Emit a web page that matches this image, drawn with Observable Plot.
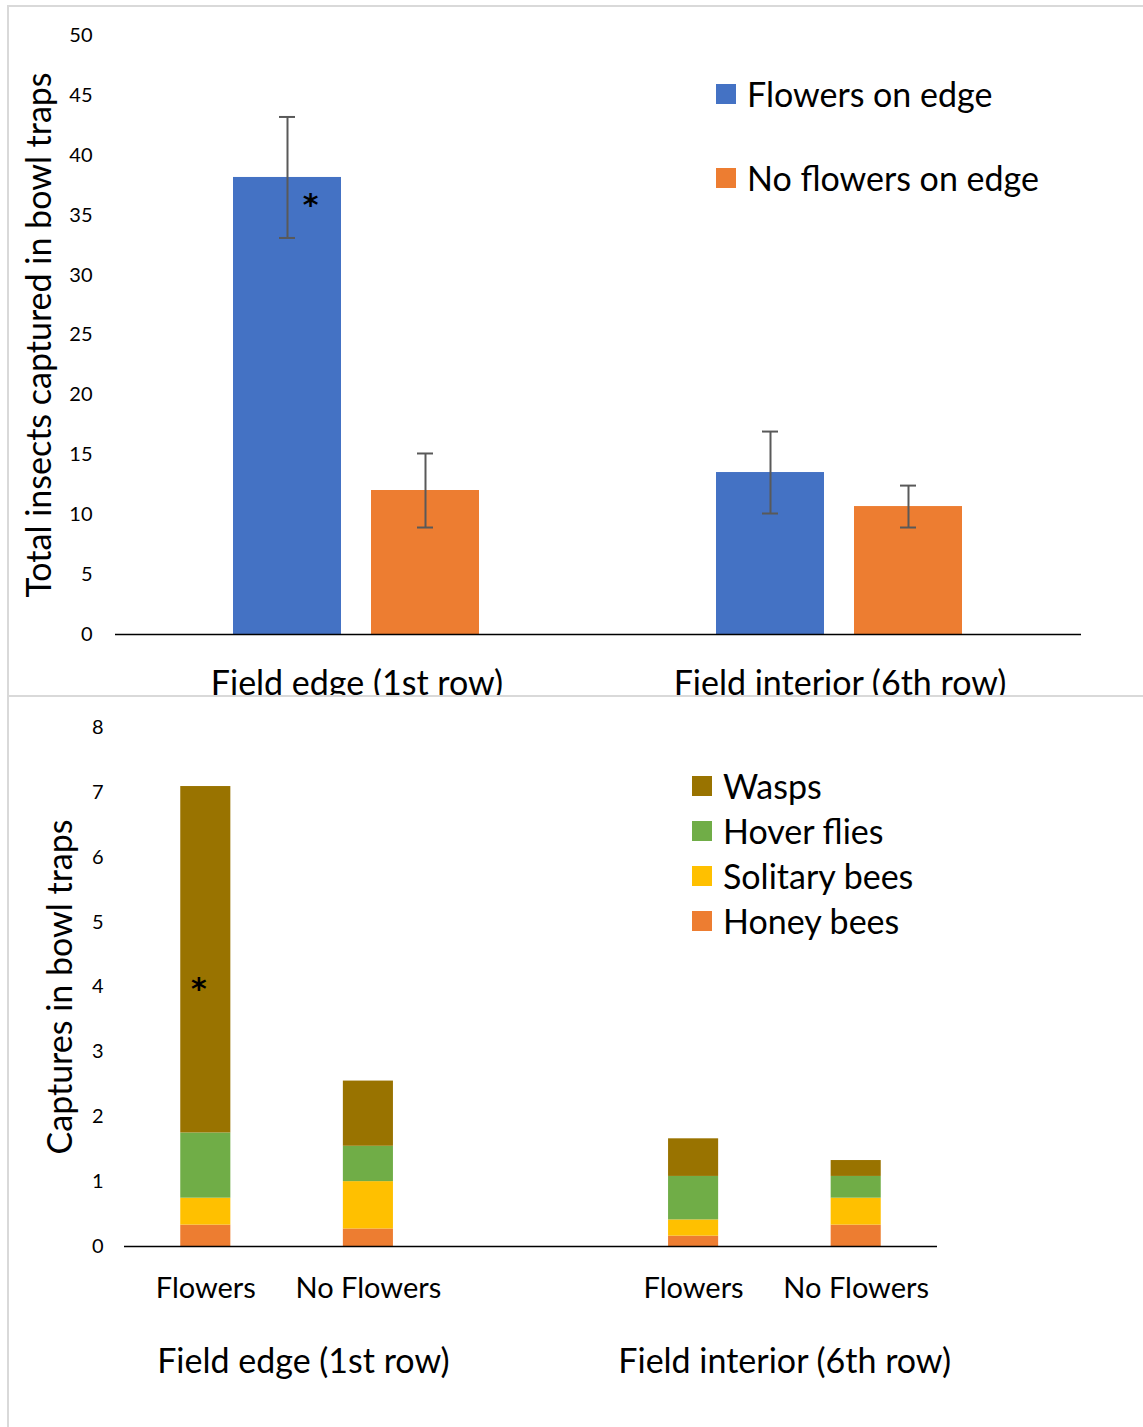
<!DOCTYPE html>
<html><head><meta charset="utf-8">
<script src="https://cdn.jsdelivr.net/npm/d3@7"></script>
<script src="https://cdn.jsdelivr.net/npm/@observablehq/plot@0.6"></script>
<style>
body{margin:0;background:#fff;font-family:Lato,sans-serif;}
#page{position:relative;width:1143px;height:1427px;overflow:hidden;background:#fff;}
.line{position:absolute;background:#d9d9d9;}
.panel{position:absolute;left:0;width:1143px;overflow:hidden;}
.legend-item{position:absolute;display:flex;align-items:center;height:40px;white-space:nowrap;color:#000;line-height:1;}
.sw{width:20px;height:20px;margin-right:11px;flex:none;}
</style></head>
<body><div id="page">
<div class="panel" id="top" style="top:0;height:695px"></div>
<div class="panel" id="bottom" style="top:697px;height:730px"></div>
<div class="line" style="left:7px;top:5px;width:1136px;height:2px"></div>
<div class="line" style="left:7px;top:695px;width:1136px;height:2px"></div>
<div class="line" style="left:7px;top:5px;width:2px;height:1422px"></div>
</div>
<script>
// ---------- data: top panel ----------
const groups = ["Field edge (1st row)", "Field interior (6th row)"];
const treatments = ["Flowers on edge", "No flowers on edge"];
const treatmentColors = ["#4472C4", "#ED7D31"];
const flowersMean = [38.15, 13.52];
const flowersErr = [5.05, 3.42];
const noFlowersMean = [12.02, 10.68];
const noFlowersErr = [3.09, 1.75];
const topTicks = [0, 5, 10, 15, 20, 25, 30, 35, 40, 45, 50];
const topSignificance = [{group: "Field edge (1st row)", treatment: "Flowers on edge", y: 35.85}];

// ---------- data: bottom panel ----------
const barLabels = ["Flowers", "No Flowers", "Flowers", "No Flowers"];
const barSlots = [1, 2, 4, 5];
const groupLabels = ["Field edge (1st row)", "Field interior (6th row)"];
const groupLabelSlots = [1.6, 4.56];
const taxa = ["Honey bees", "Solitary bees", "Hover flies", "Wasps"];
const taxaColors = ["#ED7D31", "#FFC000", "#70AD47", "#997300"];
const honeyBees = [0.33, 0.27, 0.16, 0.33];
const solitaryBees = [0.415, 0.73, 0.25, 0.415];
const hoverFlies = [1.005, 0.545, 0.67, 0.335];
const wasps = [5.34, 1.005, 0.58, 0.245];
const bottomTicks = [0, 1, 2, 3, 4, 5, 6, 7, 8];
const bottomSignificance = [{slot: 1, y: 3.97}];
const legendOrder = ["Wasps", "Hover flies", "Solitary bees", "Honey bees"];

const FONT = "Lato, sans-serif";
const STAR_FONT = "'DejaVu Sans', sans-serif";

// ---------- top chart ----------
const topRows = [];
groups.forEach((g, i) => {
  topRows.push({group: g, treatment: treatments[0], mean: flowersMean[i], err: flowersErr[i]});
  topRows.push({group: g, treatment: treatments[1], mean: noFlowersMean[i], err: noFlowersErr[i]});
});

const topPlot = Plot.plot({
  width: 1143, height: 720,
  marginLeft: 115, marginRight: 62, marginTop: 35, marginBottom: 86,
  style: {fontFamily: FONT, color: "#000", background: "transparent", overflow: "visible"},
  fx: {domain: groups, padding: 0},
  x: {domain: treatments, paddingInner: 0.217, paddingOuter: 0.858, axis: null},
  y: {domain: [0, 50]},
  color: {domain: treatments, range: treatmentColors},
  marks: [
    Plot.barY(topRows, {fx: "group", x: "treatment", y: "mean", fill: "treatment"}),
    Plot.ruleX(topRows, {fx: "group", x: "treatment", y1: d => d.mean - d.err, y2: d => d.mean + d.err, stroke: "#595959", strokeWidth: 2}),
    Plot.tickY(topRows, {fx: "group", x: "treatment", y: d => d.mean + d.err, stroke: "#595959", strokeWidth: 2, insetLeft: 46, insetRight: 46}),
    Plot.tickY(topRows, {fx: "group", x: "treatment", y: d => d.mean - d.err, stroke: "#595959", strokeWidth: 2, insetLeft: 46, insetRight: 46}),
    Plot.ruleY([0], {stroke: "#000", strokeWidth: 1.5}),
    Plot.text(topSignificance, {fx: "group", x: "treatment", y: "y", text: () => "*", dx: 23, fontSize: 30, fontWeight: "bold", fontFamily: STAR_FONT}),
    Plot.axisY({ticks: topTicks, tickSize: 0, tickPadding: 23, fontSize: 20, line: true, label: null}),
    Plot.axisFx({anchor: "bottom", tickSize: 0, tickPadding: 36, fontSize: 34, label: null}),
    Plot.text(["Total insects captured in bowl traps"], {fx: () => groups[0], frameAnchor: "left", textAnchor: "middle", rotate: -90, dx: -75, fontSize: 34, text: d => d})
  ]
});
document.getElementById("top").appendChild(topPlot);

// ---------- bottom chart ----------
const bottomRows = [];
barSlots.forEach((s, i) => {
  bottomRows.push({slot: s, taxon: taxa[0], value: honeyBees[i]});
  bottomRows.push({slot: s, taxon: taxa[1], value: solitaryBees[i]});
  bottomRows.push({slot: s, taxon: taxa[2], value: hoverFlies[i]});
  bottomRows.push({slot: s, taxon: taxa[3], value: wasps[i]});
});
const halfBar = 0.154;
const groupRows = groupLabels.map((l, i) => ({label: l, slot: groupLabelSlots[i]}));

const bottomPlot = Plot.plot({
  width: 1143, height: 730,
  marginLeft: 124, marginRight: 206, marginTop: 30, marginBottom: 181,
  style: {fontFamily: FONT, color: "#000", background: "transparent", overflow: "visible"},
  x: {domain: [0.5, 5.5]},
  y: {domain: [0, 8]},
  color: {domain: taxa, range: taxaColors},
  marks: [
    Plot.rectY(bottomRows, Plot.stackY({x1: d => d.slot - halfBar, x2: d => d.slot + halfBar, y: "value", fill: "taxon"})),
    Plot.ruleY([0], {stroke: "#000", strokeWidth: 1.5}),
    Plot.text(bottomSignificance, {x: "slot", y: "y", text: () => "*", dx: -7, fontSize: 30, fontWeight: "bold", fontFamily: STAR_FONT}),
    Plot.axisY({ticks: bottomTicks, tickSize: 0, tickPadding: 21, fontSize: 20, line: true, label: null}),
    Plot.axisX({ticks: barSlots, tickFormat: d => barLabels[barSlots.indexOf(d)], tickSize: 0, tickPadding: 31, fontSize: 29, label: null}),
    Plot.text(groupRows, {x: "slot", text: "label", frameAnchor: "bottom", dy: 126, fontSize: 34}),
    Plot.text(["Captures in bowl traps"], {frameAnchor: "left", textAnchor: "middle", rotate: -90, dx: -63, fontSize: 34, text: d => d})
  ]
});
document.getElementById("bottom").appendChild(bottomPlot);

// ---------- legends (HTML) ----------
const page = document.getElementById("page");
function legendItem(label, color, left, centerY, size) {
  const item = document.createElement("div");
  item.className = "legend-item";
  item.style.left = left + "px";
  item.style.top = (centerY - 20) + "px";
  const sw = document.createElement("div");
  sw.className = "sw";
  sw.style.background = color;
  const t = document.createElement("span");
  t.textContent = label;
  t.style.fontSize = size + "px";
  item.appendChild(sw); item.appendChild(t);
  page.appendChild(item);
}
const topLegendY = [94, 178];
treatments.forEach((t, i) => legendItem(t, treatmentColors[i], 716, topLegendY[i], 34));
const bottomLegendY = [786, 831, 876, 921];
legendOrder.forEach((t, i) => legendItem(t, taxaColors[taxa.indexOf(t)], 692, bottomLegendY[i], 34));
</script>
</body></html>
